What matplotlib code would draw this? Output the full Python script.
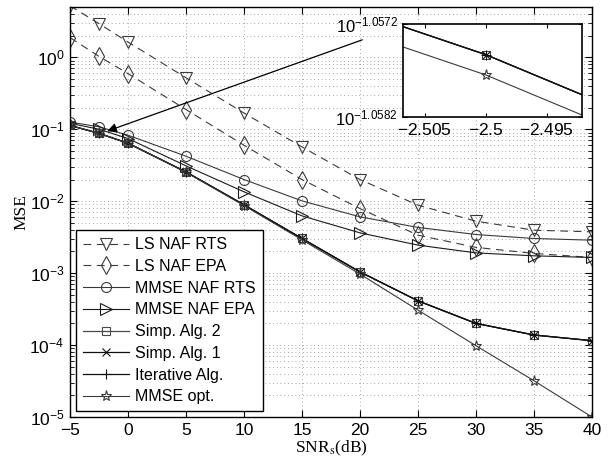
import matplotlib
matplotlib.use('Agg')
import matplotlib.pyplot as plt
from matplotlib.ticker import LogLocator, NullFormatter, FixedLocator, FixedFormatter

plt.rcParams['font.family'] = ['Liberation Sans', 'DejaVu Sans']
plt.rcParams['mathtext.fontset'] = 'custom'
plt.rcParams['mathtext.rm'] = 'Liberation Sans'
plt.rcParams['mathtext.it'] = 'Liberation Sans:italic'
plt.rcParams['mathtext.bf'] = 'Liberation Sans:bold'
plt.rcParams['axes.unicode_minus'] = True

# ---------------- data ----------------
snr = [-5, -2.5, 0, 5, 10, 15, 20, 25, 30, 35, 40]

ls_naf_rts = [5.2, 2.94, 1.63, 0.52, 0.168, 0.0568, 0.020, 0.0088, 0.00527, 0.00395, 0.00375]
ls_naf_epa = [1.88, 1.03, 0.594, 0.188, 0.060, 0.020, 0.0079, 0.00337, 0.00228, 0.00188, 0.00165]
mmse_naf_rts = [0.126, 0.108, 0.0826, 0.0422, 0.020, 0.0101, 0.00605, 0.00432, 0.00344, 0.00303, 0.00287]
mmse_naf_epa = [0.121, 0.100, 0.0743, 0.031, 0.0135, 0.00625, 0.00363, 0.00245, 0.00191, 0.00174, 0.00165]
simp_alg2 = [0.1130, 0.087593, 0.0640, 0.0255, 0.0089, 0.00303, 0.00104, 0.000412, 0.000200, 0.000138, 0.000115]
simp_alg1 = [0.1130, 0.087593, 0.0640, 0.0255, 0.0089, 0.00303, 0.00104, 0.000412, 0.000200, 0.000138, 0.000115]
iterative = [0.1130, 0.087593, 0.0640, 0.0255, 0.0089, 0.00303, 0.00104, 0.000412, 0.000200, 0.000138, 0.000115]
mmse_opt = [0.11294, 0.087549, 0.06397, 0.0252, 0.0087, 0.0029, 0.00097, 0.000306, 9.8e-5, 3.19e-5, 1.0e-5]

labels = ['LS NAF RTS', 'LS NAF EPA', 'MMSE NAF RTS', 'MMSE NAF EPA',
          'Simp. Alg. 2', 'Simp. Alg. 1', 'Iterative Alg.', 'MMSE opt.']

inset_xticks = [-2.505, -2.5, -2.495]
inset_xticklabels = [r'$-2.505$', r'$-2.5$', r'$-2.495$']
inset_yticks = [10 ** -1.0582, 10 ** -1.0572]
inset_yticklabels = [r'$10^{-1.0582}$', r'$10^{-1.0572}$']

# ---------------- styles ----------------
dash = (0, (7, 5))
series = [
    (ls_naf_rts, dict(ls=dash, marker='v', color='#3a3a3a', lw=0.8, ms=8.5)),
    (ls_naf_epa, dict(ls=dash, marker='d', color='#3a3a3a', lw=0.8, ms=9)),
    (mmse_naf_rts, dict(ls='-', marker='o', color='#3a3a3a', lw=0.8, ms=7.2)),
    (mmse_naf_epa, dict(ls='-', marker='>', color='#1a1a1a', lw=0.8, ms=8)),
    (simp_alg2, dict(ls='-', marker='s', color='#4a4a4a', lw=0.9, ms=5.5)),
    (simp_alg1, dict(ls='-', marker='x', color='#111111', lw=0.9, ms=5.5)),
    (iterative, dict(ls='-', marker='+', color='#111111', lw=0.9, ms=7)),
    (mmse_opt, dict(ls='-', marker='*', color='#3a3a3a', lw=0.8, ms=8)),
]

fig = plt.figure(figsize=(6.16, 4.62), dpi=100)
ax = fig.add_axes([0.1136, 0.0974, 0.8474, 0.8874])

for (vals, st), lab in zip(series, labels):
    ax.plot(snr, vals, label=lab, markerfacecolor='none', markeredgewidth=0.8, **st)

ax.set_yscale('log')
ax.set_xlim(-5, 40)
ax.set_ylim(1e-5, 5)
ax.set_xticks([-5, 0, 5, 10, 15, 20, 25, 30, 35, 40])
ax.yaxis.set_major_locator(LogLocator(base=10, numticks=10))
ax.yaxis.set_minor_locator(LogLocator(base=10, subs=range(2, 10), numticks=20))
ax.yaxis.set_minor_formatter(NullFormatter())
ax.tick_params(which='both', direction='in', top=True, right=True, labelsize=12.5)
ax.tick_params(which='major', length=5, width=0.8, pad=4)
ax.tick_params(which='minor', length=3, width=0.6)
ax.grid(True, which='major', ls=(0, (1, 3.5)), color='#8a8a8a', lw=0.6)
ax.grid(True, which='minor', axis='y', ls=(0, (1, 3.5)), color='#8a8a8a', lw=0.6)
for sp in ax.spines.values():
    sp.set_linewidth(1.0)

ax.set_ylabel('MSE', fontfamily='Liberation Serif', fontsize=12.5, labelpad=0)
ax.set_xlabel(r'SNR$_{\mathrm{s}}$(dB)', fontfamily='Liberation Serif',
              math_fontfamily='stix', fontsize=12.5, labelpad=1)

leg = ax.legend(loc='lower left', fontsize=11.5, handlelength=2.9, labelspacing=0.42,
                borderaxespad=0.35, fancybox=False, framealpha=1, edgecolor='k',
                handletextpad=0.38, borderpad=0.45)
leg.get_frame().set_linewidth(1.0)

# arrow to the zoomed region
ax.annotate('', xy=(-1.8, 0.094), xytext=(20.2, 1.75),
            arrowprops=dict(arrowstyle='-|>', color='k', lw=0.9, mutation_scale=14,
                            shrinkA=0, shrinkB=0))

# ---------------- inset ----------------
axin = fig.add_axes([0.654, 0.747, 0.2906, 0.2013])
axin.set_facecolor('white')
for (vals, st), lab in zip(series, labels):
    axin.plot(snr, vals, markerfacecolor='none', markeredgewidth=0.8, **st)
axin.set_yscale('log')
axin.set_xlim(-2.50681, -2.4921)
axin.set_ylim(10 ** -1.0582, 10 ** -1.0572)
axin.xaxis.set_major_locator(FixedLocator(inset_xticks))
axin.xaxis.set_major_formatter(FixedFormatter(inset_xticklabels))
axin.yaxis.set_major_locator(FixedLocator(inset_yticks))
axin.yaxis.set_major_formatter(FixedFormatter(inset_yticklabels))
axin.yaxis.set_minor_locator(FixedLocator([]))
axin.tick_params(which='both', direction='in', top=True, right=True, labelsize=12.5, length=3)
axin.tick_params(axis='y', labelsize=12)
for sp in axin.spines.values():
    sp.set_linewidth(1.2)

fig.savefig('out.png', dpi=100)
